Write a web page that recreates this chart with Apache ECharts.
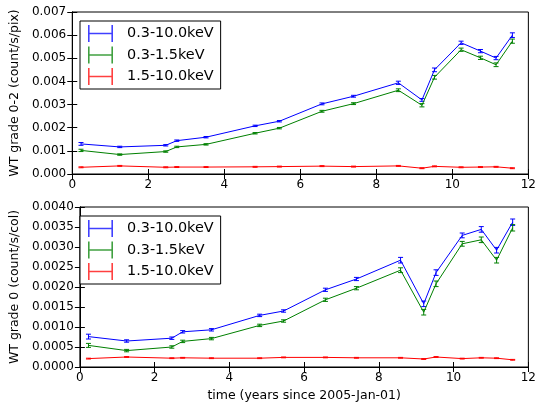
<!DOCTYPE html>
<html><head><meta charset="utf-8">
<script src="https://cdn.jsdelivr.net/npm/echarts@6/dist/echarts.min.js"></script>
<style>html,body{margin:0;padding:0;background:#fff}#c{width:539px;height:403px}</style>
</head><body><div id="c"></div>
<script>
const years = [0.23, 1.25, 2.46, 2.75, 3.52, 4.81, 5.45, 6.57, 7.40, 8.58, 9.20, 9.53, 10.23, 10.74, 11.15, 11.58];
const seriesNames = ['0.3-10.0keV', '0.3-1.5keV', '1.5-10.0keV'];
const seriesColors = ['#0000ff', '#008000', '#ff0000'];

// Top panel: WT grade 0-2 (count/s/pix)
const topBroad = [0.00130,0.00117,0.00124,0.00144,0.00159,0.00208,0.00228,0.00303,0.00336,0.00394,0.00320,0.00450,0.00567,0.00531,0.00501,0.00600];
const topBroadErr = [0.00006,0.00003,0.00003,0.00003,0.00003,0.00003,0.00003,0.00004,0.00004,0.00007,0.00006,0.00008,0.00007,0.00007,0.00007,0.00010];
const topSoft = [0.00102,0.00084,0.00097,0.00117,0.00128,0.00176,0.00198,0.00271,0.00304,0.00362,0.00297,0.00418,0.00537,0.00502,0.00472,0.00574];
const topSoftErr = [0.00005,0.00003,0.00003,0.00003,0.00003,0.00003,0.00003,0.00004,0.00004,0.00006,0.00007,0.00008,0.00007,0.00007,0.00008,0.00009];
const topHard = [0.00029,0.00035,0.00029,0.00030,0.00030,0.00031,0.00032,0.00034,0.00032,0.00035,0.00025,0.00033,0.00029,0.00030,0.00031,0.00025];
const topHardErr = [0.00002,0.00002,0.00002,0.00002,0.00002,0.00002,0.00002,0.00002,0.00002,0.00002,0.00002,0.00002,0.00002,0.00002,0.00002,0.00002];

// Bottom panel: WT grade 0 (count/s/col)
const botBroad = [0.00076,0.00065,0.00072,0.00088,0.00093,0.00129,0.00140,0.00193,0.00220,0.00267,0.00158,0.00236,0.00329,0.00344,0.00292,0.00362];
const botBroadErr = [0.00006,0.00003,0.00003,0.00003,0.00003,0.00003,0.00003,0.00004,0.00004,0.00007,0.00007,0.00007,0.00006,0.00007,0.00007,0.00008];
const botSoft = [0.00054,0.00041,0.00050,0.00064,0.00071,0.00104,0.00115,0.00168,0.00197,0.00242,0.00137,0.00208,0.00308,0.00318,0.00267,0.00348];
const botSoftErr = [0.00005,0.00003,0.00003,0.00003,0.00003,0.00003,0.00003,0.00004,0.00004,0.00006,0.00007,0.00007,0.00006,0.00007,0.00007,0.00008];
const botHard = [0.00021,0.00025,0.00022,0.00023,0.00022,0.00022,0.00024,0.00024,0.00023,0.00023,0.00020,0.00025,0.00021,0.00023,0.00022,0.00018];
const botHardErr = [0.00001,0.00001,0.00001,0.00001,0.00001,0.00001,0.00001,0.00001,0.00001,0.00001,0.00001,0.00001,0.00001,0.00001,0.00001,0.00001];

const xTicks = {min: 0, max: 12, interval: 2};
const topY = {min: 0, max: 0.007, interval: 0.001, digits: 3, name: 'WT grade 0-2 (count/s/pix)'};
const botY = {min: 0, max: 0.004, interval: 0.0005, digits: 4, name: 'WT grade 0 (count/s/col)'};
const xName = 'time (years since 2005-Jan-01)';

const FONT = 'DejaVu Sans';
const black = '#000';

function errRender(params, api) {
  const x = api.value(0), y = api.value(1), e = api.value(2);
  const lo = api.coord([x, y - e]), hi = api.coord([x, y + e]);
  const c = api.visual('color');
  const hw = 2.5;
  const st = {stroke: c, lineWidth: 1};
  return {type: 'group', children: [
    {type: 'line', shape: {x1: lo[0], y1: lo[1], x2: hi[0], y2: hi[1]}, style: st},
    {type: 'line', shape: {x1: lo[0]-hw, y1: lo[1], x2: lo[0]+hw, y2: lo[1]}, style: st},
    {type: 'line', shape: {x1: hi[0]-hw, y1: hi[1], x2: hi[0]+hw, y2: hi[1]}, style: st}
  ]};
}

const gridsDef = [
  {top: 12, height: 162},
  {top: 207, height: 160}
];

const xAxes = [], yAxes = [], series = [], legends = [];
const panels = [
  {y: topY, vals: [topBroad, topSoft, topHard], errs: [topBroadErr, topSoftErr, topHardErr], showXName: false, legendTop: 21},
  {y: botY, vals: [botBroad, botSoft, botHard], errs: [botBroadErr, botSoftErr, botHardErr], showXName: true, legendTop: 216}
];

const tickStyle = {show: true, inside: true, length: 5, lineStyle: {color: black, width: 1}};
const lineStyleAxis = {show: true, lineStyle: {color: black, width: 1}};
const errIcon = 'path://M0,0H1.6V7.7H23.4V0H25V17H23.4V9.3H1.6V17H0Z';

panels.forEach((p, gi) => {
  xAxes.push({type: 'value', gridIndex: gi, position: 'bottom', min: xTicks.min, max: xTicks.max, interval: xTicks.interval,
    axisLine: lineStyleAxis, axisTick: tickStyle, splitLine: {show: false},
    axisLabel: {color: black, fontFamily: FONT, fontSize: 12, margin: 5},
    name: p.showXName ? xName : '', nameLocation: 'middle', nameGap: 22,
    nameTextStyle: {color: black, fontFamily: FONT, fontSize: 12.5}
  });
  xAxes.push({type: 'value', gridIndex: gi, position: 'top', min: xTicks.min, max: xTicks.max, interval: xTicks.interval,
    axisLine: lineStyleAxis, axisTick: tickStyle, splitLine: {show: false}, axisLabel: {show: false}
  });
  yAxes.push({type: 'value', gridIndex: gi, position: 'left', min: p.y.min, max: p.y.max, interval: p.y.interval,
    axisLine: lineStyleAxis, axisTick: tickStyle, splitLine: {show: false},
    axisLabel: {color: black, fontFamily: FONT, fontSize: 12, margin: 6, formatter: v => v.toFixed(p.y.digits)},
    name: p.y.name, nameLocation: 'middle', nameGap: 46,
    nameTextStyle: {color: black, fontFamily: FONT, fontSize: 12.5}
  });
  yAxes.push({type: 'value', gridIndex: gi, position: 'right', min: p.y.min, max: p.y.max, interval: p.y.interval,
    axisLine: lineStyleAxis, axisTick: tickStyle, splitLine: {show: false}, axisLabel: {show: false}
  });
  const xi = gi * 2, yi = gi * 2;
  seriesNames.forEach((nm, si) => {
    const vals = p.vals[si], errs = p.errs[si];
    series.push({type: 'line', name: nm, xAxisIndex: xi, yAxisIndex: yi,
      data: years.map((x, i) => [x, vals[i]]),
      showSymbol: false, symbol: 'none', animation: false,
      lineStyle: {color: seriesColors[si], width: 1}, itemStyle: {color: seriesColors[si]}, z: 3
    });
    series.push({type: 'custom', name: nm, xAxisIndex: xi, yAxisIndex: yi,
      data: years.map((x, i) => [x, vals[i], errs[i]]),
      renderItem: errRender, encode: {x: 0, y: 1}, animation: false,
      itemStyle: {color: seriesColors[si]}, z: 3
    });
  });
  legends.push({
    data: seriesNames.map((nm, si) => ({name: nm, icon: errIcon, itemStyle: {color: seriesColors[si], opacity: 0.75, borderWidth: 0}})),
    orient: 'vertical', left: 80, top: p.legendTop,
    backgroundColor: '#fff', borderColor: black, borderWidth: 1, borderRadius: 0,
    padding: [4, 7, 4, 8], itemGap: 4.5, itemWidth: 25, itemHeight: 17, symbolKeepAspect: false,
    textStyle: {color: black, fontFamily: FONT, fontSize: 14.4, lineHeight: 17, padding: [0, 0, 0, 9]},
    selectedMode: false
  });
});

const chart = echarts.init(document.getElementById('c'), null, {renderer: 'canvas'});
chart.setOption({
  animation: false,
  backgroundColor: '#fff',
  grid: gridsDef.map(g => ({left: 72, right: 8, top: g.top, height: g.height, show: true, borderColor: black, borderWidth: 1, backgroundColor: 'transparent'})),
  xAxis: xAxes,
  yAxis: yAxes,
  legend: legends,
  series: series
});
</script>
</body></html>
